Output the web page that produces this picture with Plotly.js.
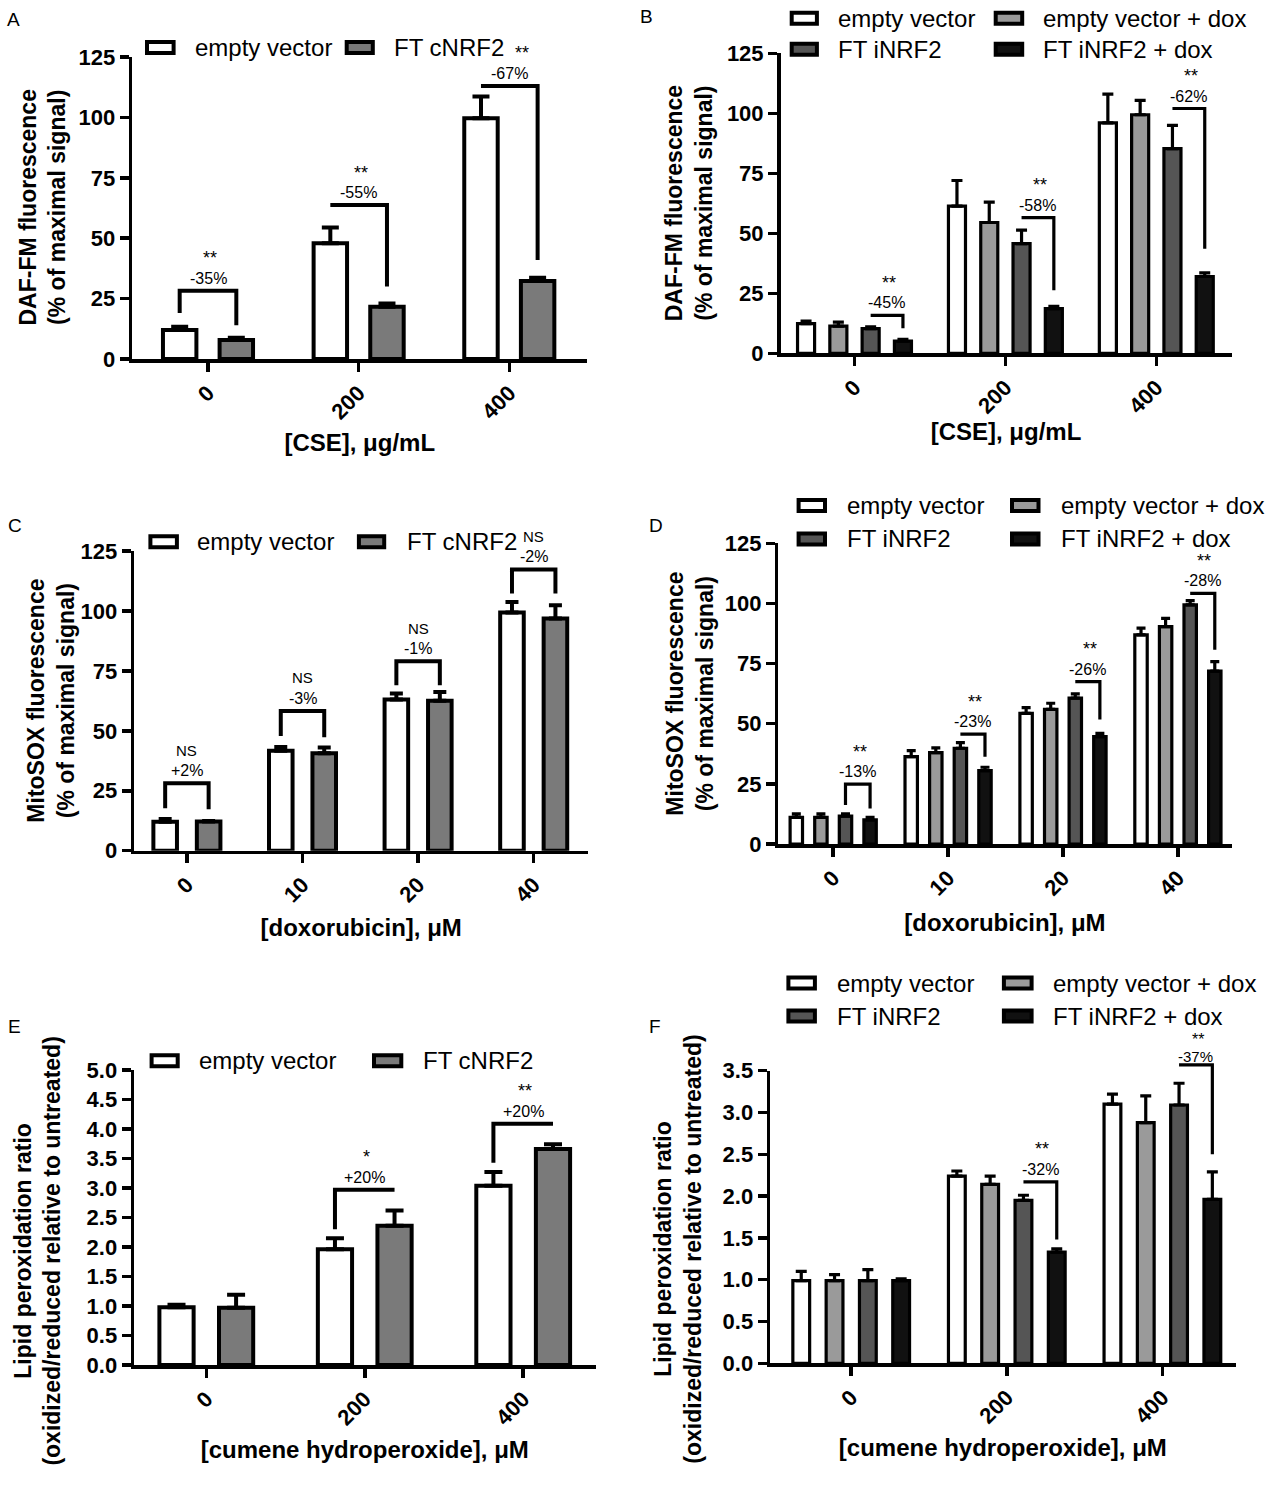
<!DOCTYPE html>
<html>
<head>
<meta charset="utf-8">
<script src="https://cdn.plot.ly/plotly-3.0.1.min.js"></script>
<style>
  html, body { margin: 0; padding: 0; background: #ffffff; }
  #chart { width: 1272px; height: 1500px; }
</style>
</head>
<body>
<div id="chart"></div>
<script>
// ================= DATA =================
// Dose categories (tick labels)
const cseDoses = ['0', '200', '400'];
const doxDoses = ['0', '10', '20', '40'];
const chpDoses = ['0', '200', '400'];

// Panel A: DAF-FM fluorescence (% of maximal signal), CSE, constitutive NRF2
const aEmptyVector = [12.0, 47.9, 99.6];
const aEmptyVectorErr = [1.4, 6.5, 9.0];
const aFtCnrf2 = [7.9, 21.6, 32.3];
const aFtCnrf2Err = [0.9, 1.4, 1.3];

// Panel B: DAF-FM fluorescence, CSE, inducible NRF2
const bEmptyVector = [12.4, 61.3, 96.0];
const bEmptyVectorErr = [1.0, 10.7, 12.0];
const bEmptyVectorDox = [11.3, 54.5, 99.4];
const bEmptyVectorDoxErr = [1.7, 8.5, 6.0];
const bFtInrf2 = [10.3, 45.7, 85.3];
const bFtInrf2Err = [0.7, 5.6, 9.7];
const bFtInrf2Dox = [5.1, 18.6, 32.0];
const bFtInrf2DoxErr = [0.7, 1.0, 1.5];

// Panel C: MitoSOX fluorescence, doxorubicin, constitutive NRF2
const cEmptyVector = [12.1, 41.7, 63.1, 99.3];
const cEmptyVectorErr = [1.1, 1.6, 2.5, 4.4];
const cFtCnrf2 = [12.2, 40.6, 62.5, 96.8];
const cFtCnrf2Err = [0.2, 2.4, 3.7, 5.6];

// Panel D: MitoSOX fluorescence, doxorubicin, inducible NRF2
const dEmptyVector = [11.1, 36.3, 54.3, 86.9];
const dEmptyVectorErr = [1.4, 2.5, 2.4, 2.8];
const dEmptyVectorDox = [11.1, 38.0, 56.0, 90.4];
const dEmptyVectorDoxErr = [1.4, 2.0, 2.5, 3.4];
const dFtInrf2 = [11.6, 39.8, 60.6, 99.4];
const dFtInrf2Err = [0.9, 2.3, 1.8, 1.8];
const dFtInrf2Dox = [10.0, 30.5, 44.6, 71.9];
const dFtInrf2DoxErr = [1.1, 1.4, 1.4, 3.9];

// Panel E: lipid peroxidation ratio, cumene hydroperoxide, constitutive NRF2
const eEmptyVector = [0.98, 1.96, 3.04];
const eEmptyVectorErr = [0.04, 0.19, 0.23];
const eFtCnrf2 = [0.97, 2.36, 3.66];
const eFtCnrf2Err = [0.22, 0.26, 0.08];

// Panel F: lipid peroxidation ratio, cumene hydroperoxide, inducible NRF2
const fEmptyVector = [0.99, 2.24, 3.10];
const fEmptyVectorErr = [0.11, 0.06, 0.12];
const fEmptyVectorDox = [0.99, 2.14, 2.88];
const fEmptyVectorDoxErr = [0.07, 0.10, 0.32];
const fFtInrf2 = [0.99, 1.95, 3.09];
const fFtInrf2Err = [0.13, 0.06, 0.26];
const fFtInrf2Dox = [0.99, 1.33, 1.96];
const fFtInrf2DoxErr = [0.02, 0.04, 0.33];

// Significance brackets: category index, bracket top, leg ends (null = no leg), labels
const aBrackets = [
  { cat: 0, top: 28.3, left: 19, right: 14, sig: '**', change: '-35%' },
  { cat: 1, top: 63.7, left: null, right: 30, sig: '**', change: '-55%' },
  { cat: 2, top: 113, left: null, right: 41, sig: '**', change: '-67%', sigShift: 11 }
];
const bBrackets = [
  { cat: 0, top: 15.8, left: null, right: 10.4, sig: '**', change: '-45%' },
  { cat: 1, top: 56.5, left: null, right: 26.3, sig: '**', change: '-58%' },
  { cat: 2, top: 102, left: null, right: 43.6, sig: '**', change: '-62%' }
];
const cBrackets = [
  { cat: 0, top: 28.1, left: 17.7, right: 17.3, sig: 'NS', change: '+2%' },
  { cat: 1, top: 58.3, left: 47.8, right: 47.3, sig: 'NS', change: '-3%' },
  { cat: 2, top: 79, left: 69, right: 69, sig: 'NS', change: '-1%' },
  { cat: 3, top: 117.3, left: 107.3, right: 107.3, sig: 'NS', change: '-2%' }
];
const dBrackets = [
  { cat: 0, top: 24.9, left: 16.2, right: 14.8, sig: '**', change: '-13%' },
  { cat: 1, top: 45.7, left: null, right: 36.3, sig: '**', change: '-23%' },
  { cat: 2, top: 67.5, left: null, right: 51.8, sig: '**', change: '-26%' },
  { cat: 3, top: 104.2, left: null, right: 80.7, sig: '**', change: '-28%' }
];
const eBrackets = [
  { cat: 1, top: 2.97, left: 2.3, right: null, sig: '*', change: '+20%' },
  { cat: 2, top: 4.09, left: 3.43, right: null, sig: '**', change: '+20%' }
];
const fBrackets = [
  { cat: 1, top: 2.17, left: null, right: 1.48, sig: '**', change: '-32%' },
  { cat: 2, top: 3.57, left: null, right: 2.50, sig: '**', change: '-37%', tight: true }
];

// ================= STYLE / LAYOUT =================
const FONT = '"Liberation Sans", Arial, Helvetica, sans-serif';
const W = 1272, H = 1500;
const fx = p => p / W;
const fy = p => 1 - p / H;

const fills = {
  'empty vector': '#ffffff',
  'FT cNRF2': '#7a7a7a',
  'empty vector + dox': '#9a9a9a',
  'FT iNRF2': '#555555',
  'FT iNRF2 + dox': '#111111'
};

const two = [-0.188, 0.188];
const four = [-0.321, -0.107, 0.107, 0.321];

const panels = [
  {
    letter: 'A', cats: cseDoses, yMax: 125, dtick: 25, fmt: '',
    ytitle: 'DAF-FM fluorescence<br>(% of maximal signal)', xtitle: '[CSE], μg/mL',
    series: [
      { name: 'empty vector', y: aEmptyVector, err: aEmptyVectorErr },
      { name: 'FT cNRF2', y: aFtCnrf2, err: aFtCnrf2Err }
    ],
    brackets: aBrackets, pair: [0, 1],
    geo: { x0: 132.1, x1: 587.4, t0: 208, tN: 509.3, yTop: 57, yBot: 359,
      centers: two, barW: 0.222, lw: 4, errW: 8.5, xstand: 12,
      ytx: 42.5, lgY: [47.5], lgCols: [[145, 175.6, 195], [344.7, 374.8, 394.3]], letter: [5, 19] }
  },
  {
    letter: 'B', cats: cseDoses, yMax: 125, dtick: 25, fmt: '',
    ytitle: 'DAF-FM fluorescence<br>(% of maximal signal)', xtitle: '[CSE], μg/mL',
    series: [
      { name: 'empty vector', y: bEmptyVector, err: bEmptyVectorErr },
      { name: 'empty vector + dox', y: bEmptyVectorDox, err: bEmptyVectorDoxErr },
      { name: 'FT iNRF2', y: bFtInrf2, err: bFtInrf2Err },
      { name: 'FT iNRF2 + dox', y: bFtInrf2Dox, err: bFtInrf2DoxErr }
    ],
    brackets: bBrackets, pair: [2, 3],
    geo: { x0: 780.5, x1: 1231.5, t0: 854.5, tN: 1156.3, yTop: 53.3, yBot: 353.3,
      centers: four, barW: 0.113, lw: 3.2, errW: 5.5, xstand: 6,
      ytx: 689, lgY: [18.3, 49.2], lgCols: [[789.7, 818.9, 838.4], [993.7, 1024.2, 1042.5]], letter: [638, 17],
      order: [[0, 0, 0], [1, 1, 0], [2, 0, 1], [3, 1, 1]] }
  },
  {
    letter: 'C', cats: doxDoses, yMax: 125, dtick: 25, fmt: '',
    ytitle: 'MitoSOX fluorescence<br>(% of maximal signal)', xtitle: '[doxorubicin], μM',
    series: [
      { name: 'empty vector', y: cEmptyVector, err: cEmptyVectorErr },
      { name: 'FT cNRF2', y: cFtCnrf2, err: cFtCnrf2Err }
    ],
    brackets: cBrackets, pair: [0, 1],
    geo: { x0: 134.1, x1: 588.2, t0: 186.9, tN: 533.7, yTop: 551, yBot: 850.7,
      centers: two, barW: 0.204, lw: 4, errW: 6.5, xstand: 14,
      ytx: 50.8, lgY: [541.7], lgCols: [[148.4, 178.9, 197.2], [356.9, 386.2, 406.5]], letter: [6, 525] }
  },
  {
    letter: 'D', cats: doxDoses, yMax: 125, dtick: 25, fmt: '',
    ytitle: 'MitoSOX fluorescence<br>(% of maximal signal)', xtitle: '[doxorubicin], μM',
    series: [
      { name: 'empty vector', y: dEmptyVector, err: dEmptyVectorErr },
      { name: 'empty vector + dox', y: dEmptyVectorDox, err: dEmptyVectorDoxErr },
      { name: 'FT iNRF2', y: dFtInrf2, err: dFtInrf2Err },
      { name: 'FT iNRF2 + dox', y: dFtInrf2Dox, err: dFtInrf2DoxErr }
    ],
    brackets: dBrackets, pair: [2, 3],
    geo: { x0: 778.3, x1: 1231.5, t0: 833.2, tN: 1177.9, yTop: 543.3, yBot: 844,
      centers: four, barW: 0.108, lw: 3.2, errW: 4.5, xstand: 15,
      ytx: 690, lgY: [505.5, 539], lgCols: [[796.6, 827, 846.6], [1010, 1040.5, 1060.8]], letter: [647, 525],
      order: [[0, 0, 0], [1, 1, 0], [2, 0, 1], [3, 1, 1]] }
  },
  {
    letter: 'E', cats: chpDoses, yMax: 5, dtick: 0.5, fmt: '.1f',
    ytitle: 'Lipid peroxidation ratio<br>(oxidized/reduced relative to untreated)', xtitle: '[cumene hydroperoxide], μM',
    series: [
      { name: 'empty vector', y: eEmptyVector, err: eEmptyVectorErr },
      { name: 'FT cNRF2', y: eFtCnrf2, err: eFtCnrf2Err }
    ],
    brackets: eBrackets, pair: [0, 1],
    geo: { x0: 134.1, x1: 595.5, t0: 206.3, tN: 523.2, yTop: 1070, yBot: 1365,
      centers: two, barW: 0.216, lw: 4, errW: 9, xstand: 13,
      ytx: 37.6, yty: 1251, lgY: [1060.8], lgCols: [[149.6, 179.7, 199.2], [372, 403.3, 422.8]], letter: [6, 1026] }
  },
  {
    letter: 'F', cats: chpDoses, yMax: 3.5, dtick: 0.5, fmt: '.1f',
    ytitle: 'Lipid peroxidation ratio<br>(oxidized/reduced relative to untreated)', xtitle: '[cumene hydroperoxide], μM',
    series: [
      { name: 'empty vector', y: fEmptyVector, err: fEmptyVectorErr },
      { name: 'empty vector + dox', y: fEmptyVectorDox, err: fEmptyVectorDoxErr },
      { name: 'FT iNRF2', y: fFtInrf2, err: fFtInrf2Err },
      { name: 'FT iNRF2 + dox', y: fFtInrf2Dox, err: fFtInrf2DoxErr }
    ],
    brackets: fBrackets, pair: [2, 3],
    geo: { x0: 770.1, x1: 1235.6, t0: 851.2, tN: 1162.4, yTop: 1070.7, yBot: 1363.3,
      centers: four, barW: 0.108, lw: 3.2, errW: 5.5, xstand: 12,
      ytx: 677.7, yty: 1249, lgY: [983, 1016], lgCols: [[786.4, 816.9, 837.2], [1001.9, 1033.6, 1052.7]], letter: [647, 1026],
      order: [[0, 0, 0], [1, 1, 0], [2, 0, 1], [3, 1, 1]] }
  }
];

const traces = [];
const shapes = [];
const annotations = [];
const layout = {
  width: W, height: H,
  margin: { l: 0, r: 0, t: 0, b: 0 },
  paper_bgcolor: '#ffffff', plot_bgcolor: 'rgba(0,0,0,0)',
  showlegend: false, barmode: 'overlay',
  font: { family: FONT, color: '#000000' },
  shapes: shapes, annotations: annotations
};

panels.forEach((p, i) => {
  const n = i + 1;
  const xid = n === 1 ? 'x' : 'x' + n;
  const yid = n === 1 ? 'y' : 'y' + n;
  const g = p.geo;
  const step = (g.tN - g.t0) / (p.cats.length - 1);
  const xs = p.cats.map((_, k) => k);
  const yDomain = [fy(g.yBot), fy(g.yTop)];
  // value -> paper fraction along this y axis (linear axis starting at 0),
  // used so significance brackets may rise above the top of the axis
  const toPaper = v => yDomain[0] + (v / p.yMax) * (yDomain[1] - yDomain[0]);

  layout[n === 1 ? 'xaxis' : 'xaxis' + n] = {
    domain: [fx(g.x0), fx(g.x1)], anchor: yid,
    range: [(g.x0 - g.t0) / step, (g.x1 - g.t0) / step],
    tickmode: 'array', tickvals: xs, ticktext: p.cats, tickangle: -45,
    showline: true, linewidth: 3.5, linecolor: '#000',
    ticks: 'outside', ticklen: 9, tickwidth: 3.5, tickcolor: '#000',
    showgrid: false, zeroline: false, fixedrange: true,
    tickfont: { family: FONT, size: 22, weight: 700, color: '#000' },
    title: { text: p.xtitle, standoff: g.xstand, font: { family: FONT, size: 24, weight: 700, color: '#000' } }
  };
  layout[n === 1 ? 'yaxis' : 'yaxis' + n] = {
    domain: yDomain, anchor: xid,
    range: [0, p.yMax], tickmode: 'linear', tick0: 0, dtick: p.dtick, tickformat: p.fmt,
    showline: true, linewidth: 3.5, linecolor: '#000',
    ticks: 'outside', ticklen: 9, tickwidth: 3.5, tickcolor: '#000',
    showgrid: false, zeroline: false, fixedrange: true,
    tickfont: { family: FONT, size: 22, weight: 700, color: '#000' }
  };

  // bars with upward error bars
  p.series.forEach((s, si) => {
    traces.push({
      type: 'bar', name: s.name, x: xs, y: s.y, xaxis: xid, yaxis: yid,
      width: g.barW, offset: g.centers[si] - g.barW / 2,
      marker: { color: fills[s.name], line: { color: '#000', width: g.lw } },
      error_y: { type: 'data', symmetric: false, array: s.err, arrayminus: s.err.map(() => 0),
        color: '#000', thickness: g.lw, width: g.errW },
      hoverinfo: 'skip', showlegend: false
    });
  });

  // significance brackets and labels
  p.brackets.forEach(b => {
    const xL = b.cat + g.centers[p.pair[0]];
    const xR = b.cat + g.centers[p.pair[1]];
    let path = '';
    if (b.left !== null) path += `M${xL},${toPaper(b.left)} L${xL},${toPaper(b.top)}`;
    else path += `M${xL},${toPaper(b.top)}`;
    path += ` L${xR},${toPaper(b.top)}`;
    if (b.right !== null) path += ` L${xR},${toPaper(b.right)}`;
    shapes.push({
      type: 'path', xref: xid, yref: 'paper', path: path,
      line: { color: '#000', width: g.lw }, layer: 'above'
    });
    const mid = (xL + xR) / 2;
    const isNS = b.sig === 'NS';
    annotations.push({
      xref: xid, yref: 'paper', x: mid, y: toPaper(b.top), text: b.sig, showarrow: false,
      xanchor: 'center', yanchor: 'middle',
      yshift: b.tight ? 25.5 : (isNS ? 33 : 32.5), xshift: (b.sigShift || 0) + (isNS ? 0 : 2),
      font: { family: FONT, size: isNS ? 15 : (b.tight ? 16 : 18), color: '#000' }
    });
    annotations.push({
      xref: xid, yref: 'paper', x: mid, y: toPaper(b.top), text: b.change, showarrow: false,
      xanchor: 'center', yanchor: 'middle', yshift: b.tight ? 8 : 12.5,
      font: { family: FONT, size: b.tight ? 15 : 16, color: '#000' }
    });
  });

  // y-axis title (two lines, rotated)
  annotations.push({
    xref: 'paper', yref: 'paper', x: fx(g.ytx), y: fy(g.yty !== undefined ? g.yty : (g.yTop + g.yBot) / 2),
    text: p.ytitle, textangle: -90, showarrow: false, xanchor: 'center', yanchor: 'middle', align: 'center',
    font: { family: FONT, size: 23, weight: 700, color: '#000' }
  });

  // panel letter
  annotations.push({
    xref: 'paper', yref: 'paper', x: fx(g.letter[0]), y: fy(g.letter[1]), text: p.letter,
    showarrow: false, xanchor: 'left', yanchor: 'middle',
    font: { family: FONT, size: 19, color: '#000' }
  });

  // legend (box + label per series)
  const order = g.order || p.series.map((_, si) => [si, si, 0]);
  order.forEach(([si, col, row]) => {
    const s = p.series[si];
    const c = g.lgCols[col];
    const yc = g.lgY[row];
    shapes.push({
      type: 'rect', xref: 'paper', yref: 'paper',
      x0: fx(c[0] + 2), x1: fx(c[1] - 2), y0: fy(yc + 5.5), y1: fy(yc - 5.5),
      line: { color: '#000', width: 4 }, fillcolor: fills[s.name], layer: 'above'
    });
    annotations.push({
      xref: 'paper', yref: 'paper', x: fx(c[2] - 2), y: fy(yc), text: s.name,
      showarrow: false, xanchor: 'left', yanchor: 'middle',
      font: { family: FONT, size: 24, color: '#000' }
    });
  });
});

Plotly.newPlot('chart', traces, layout, { staticPlot: true, displayModeBar: false });
</script>
</body>
</html>
